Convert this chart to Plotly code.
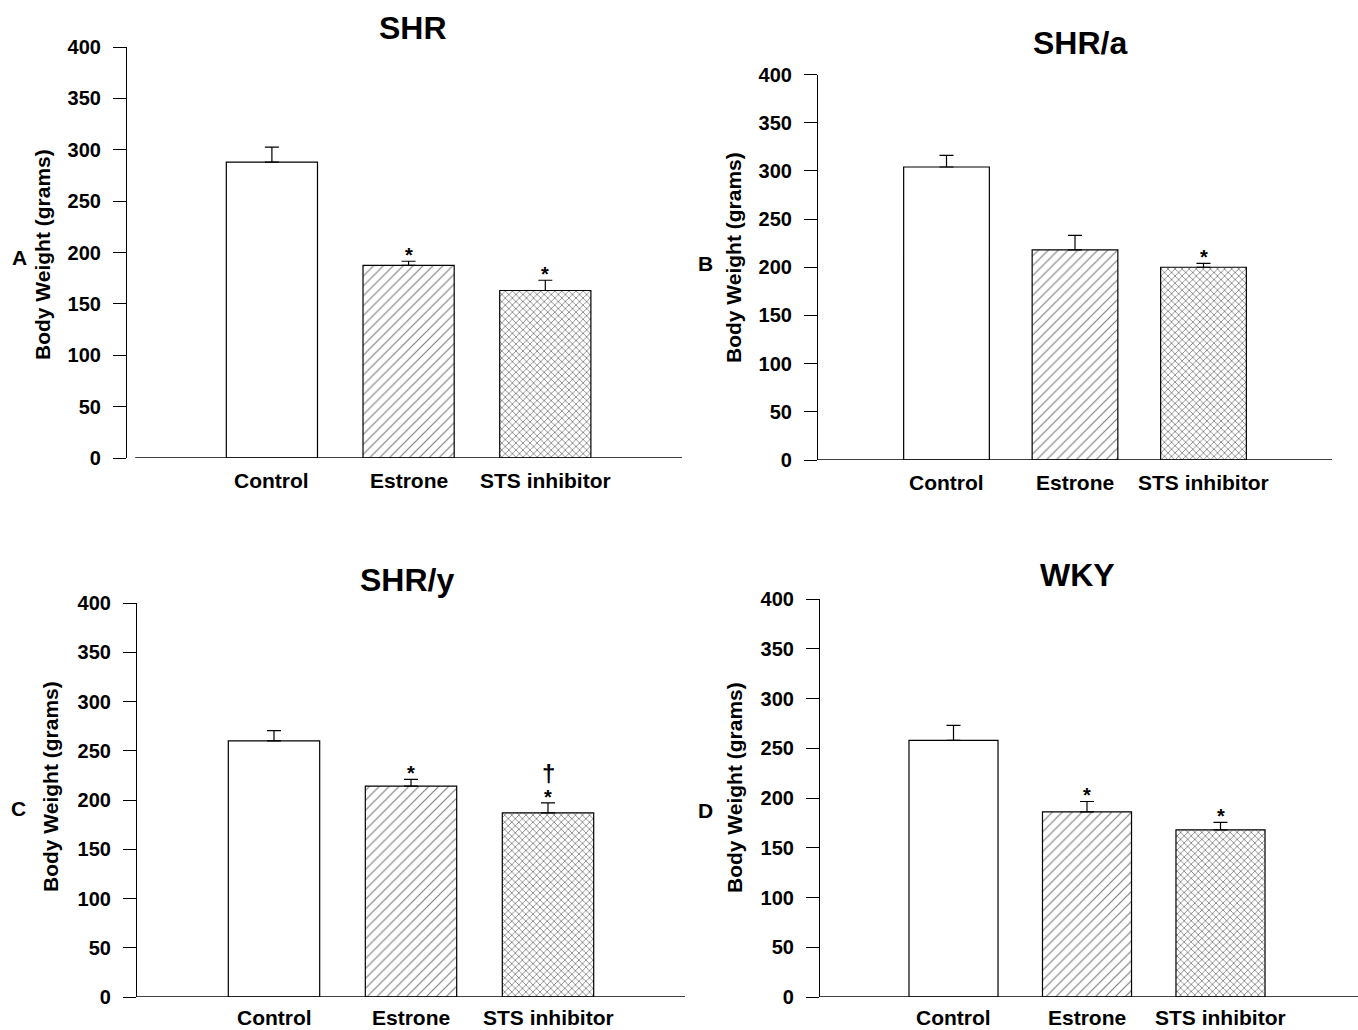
import plotly.graph_objects as go

# ---------------- data ----------------
categories = ["Control", "Estrone", "STS inhibitor"]
panel_titles = ["SHR", "SHR/a", "SHR/y", "WKY"]
panel_letters = ["A", "B", "C", "D"]
y_ticks = [0, 50, 100, 150, 200, 250, 300, 350, 400]
y_title = "Body Weight (grams)"

shr_mean = [288, 187.5, 163]
shr_sem = [14.5, 4, 10]
shra_mean = [304, 218, 200]
shra_sem = [12, 15, 4]
shry_mean = [260, 214, 187]
shry_sem = [10.5, 7, 10]
wky_mean = [258, 186, 168]
wky_sem = [15, 10.5, 7.5]

shr_sig = ["", "*", "*"]
shra_sig = ["", "", "*"]
shry_sig = ["", "*", "*"]
shry_dagger = ["", "", "†"]
wky_sig = ["", "*", "*"]

means = [shr_mean, shra_mean, shry_mean, wky_mean]
sems = [shr_sem, shra_sem, shry_sem, wky_sem]
sigs = [shr_sig, shra_sig, shry_sig, wky_sig]
daggers = [["", "", ""], ["", "", ""], shry_dagger, ["", "", ""]]

# ---------------- layout geometry (pixels) ----------------
W, H = 1358, 1030
FONT = "Liberation Sans"
geom = [
    dict(xpx=(127, 682), xr=(-1.06, 3.0), ypx=(458, 47), base0=-1.0, lab=-23,
         title=(413, 28), letter=(19, 257), ytitle=(42, 255)),
    dict(xpx=(818, 1332), xr=(-1.0, 3.0), ypx=(460, 74.5), base0=-1.1, lab=-23,
         title=(1080, 43), letter=(705, 263), ytitle=(733, 258)),
    dict(xpx=(137, 685), xr=(-1.0, 3.0), ypx=(997, 603), base0=-1.1, lab=-20,
         title=(407, 580), letter=(18, 808), ytitle=(50, 787)),
    dict(xpx=(820, 1358), xr=(-1.0, 3.03), ypx=(997, 599), base0=-1.11, lab=-20,
         title=(1077, 575), letter=(705, 810), ytitle=(734, 788)),
]

def px2x(p):
    return p / W

def px2y(p):
    return 1 - p / H

patterns = [
    dict(shape=""),
    dict(shape="/", size=7, solidity=0.17, fgcolor="black", bgcolor="white", fillmode="overlay"),
    dict(shape="x", size=5, solidity=0.3, fgcolor="black", bgcolor="white", fillmode="overlay"),
]

fig = go.Figure()
annotations = []
shapes = []
layout = dict(
    width=W, height=H,
    margin=dict(l=0, r=0, t=0, b=0, pad=0),
    paper_bgcolor="white", plot_bgcolor="white",
    showlegend=False,
    font=dict(family=FONT, color="black"),
)

xpos = [0, 1, 2]

for i in range(4):
    g = geom[i]
    sfx = "" if i == 0 else str(i + 1)
    xa, ya = "x" + sfx, "y" + sfx
    for j in range(3):
        fig.add_trace(go.Bar(
            x=[xpos[j]], y=[means[i][j]],
            width=0.667,
            xaxis=xa, yaxis=ya,
            marker=dict(color="white", line=dict(color="black", width=1.2),
                        pattern=patterns[j]),
            error_y=dict(type="data", array=[sems[i][j]], arrayminus=[0],
                         symmetric=False, color="black", thickness=1.2, width=7),
        ))
        top = means[i][j] + sems[i][j]
        if sigs[i][j]:
            annotations.append(dict(
                x=xpos[j], y=top, xref=xa, yref=ya, text=sigs[i][j],
                showarrow=False, yanchor="bottom", yshift=-7,
                font=dict(family=FONT, size=20, weight="bold", color="black")))
        if daggers[i][j]:
            annotations.append(dict(
                x=xpos[j], y=top, xref=xa, yref=ya, text=daggers[i][j],
                showarrow=False, yanchor="bottom", yshift=14,
                font=dict(family=FONT, size=24, weight="bold", color="black")))
        annotations.append(dict(
            x=xpos[j], y=0, xref=xa, yref=ya, text=categories[j],
            showarrow=False, yanchor="middle", yshift=g["lab"],
            font=dict(family=FONT, size=21, weight="bold", color="black")))

    layout["xaxis" + sfx] = dict(
        domain=[px2x(g["xpx"][0]), px2x(g["xpx"][1])],
        range=list(g["xr"]), anchor=ya, automargin=False,
        showline=False, showticklabels=False, showgrid=False, zeroline=False,
        ticks="", fixedrange=True,
    )
    layout["yaxis" + sfx] = dict(
        domain=[px2y(g["ypx"][0]), px2y(g["ypx"][1])],
        range=[0, 400], anchor=xa, automargin=False,
        tickvals=y_ticks, ticks="outside", ticklen=13, tickwidth=1.2,
        tickcolor="black", showline=True, linecolor="black", linewidth=1.2,
        showgrid=False, zeroline=False, ticklabelstandoff=8,
        tickfont=dict(family=FONT, size=20, weight="bold", color="black"),
        fixedrange=True,
    )
    shapes.append(dict(type="line", xref=xa, yref=ya,
                       x0=g["base0"], x1=g["xr"][1], y0=0, y1=0,
                       line=dict(color="black", width=1.4)))
    annotations.append(dict(
        x=px2x(g["title"][0]), y=px2y(g["title"][1]), xref="paper", yref="paper",
        text=panel_titles[i], showarrow=False, xanchor="center", yanchor="middle",
        font=dict(family=FONT, size=32, weight="bold", color="black")))
    annotations.append(dict(
        x=px2x(g["letter"][0]), y=px2y(g["letter"][1]), xref="paper", yref="paper",
        text=panel_letters[i], showarrow=False, xanchor="center", yanchor="middle",
        font=dict(family=FONT, size=21, weight="bold", color="black")))
    annotations.append(dict(
        x=px2x(g["ytitle"][0]), y=px2y(g["ytitle"][1]), xref="paper", yref="paper",
        text=y_title, showarrow=False, textangle=-90,
        xanchor="center", yanchor="middle",
        font=dict(family=FONT, size=21, weight="bold", color="black")))

layout["annotations"] = annotations
layout["shapes"] = shapes
fig.update_layout(**layout)
fig.write_html(
    "out.html",
    config={"displayModeBar": False},
    post_script="document.body.style.margin='0';document.body.style.overflow='hidden';",
)
